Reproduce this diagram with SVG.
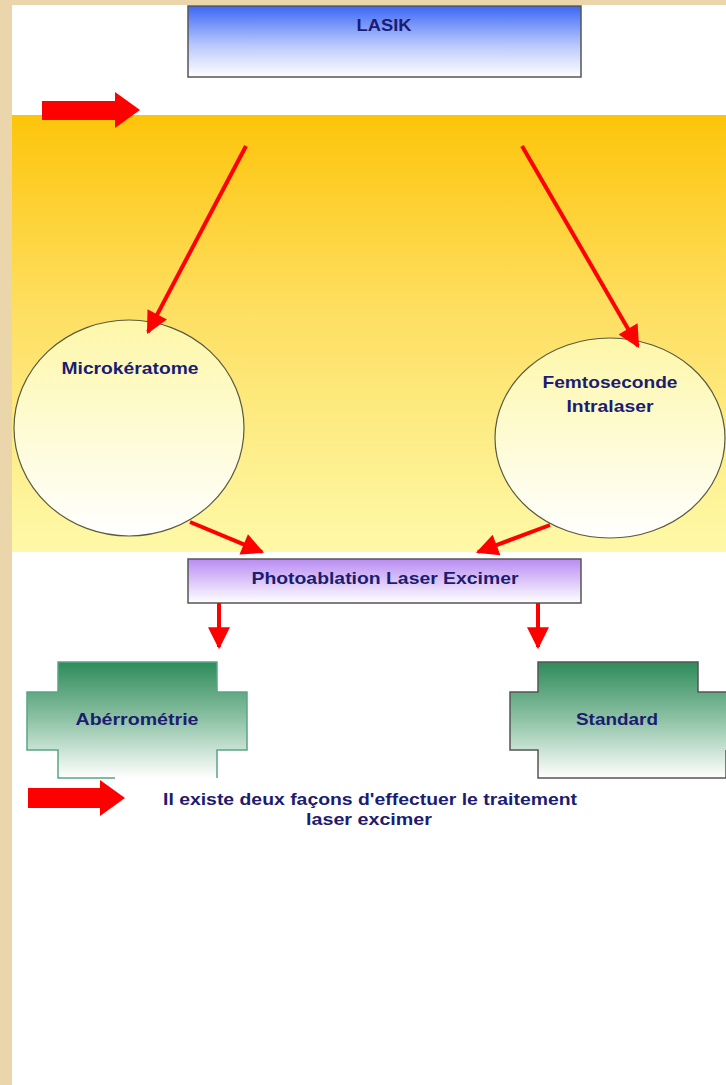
<svg xmlns="http://www.w3.org/2000/svg" width="726" height="1085" viewBox="0 0 726 1085">
<defs>
<linearGradient id="gBlue" x1="0" y1="0" x2="0" y2="1"><stop offset="0" stop-color="#3a68f5"/><stop offset="0.55" stop-color="#b9c8fb"/><stop offset="1" stop-color="#ffffff"/></linearGradient>
<linearGradient id="gPurple" x1="0" y1="0" x2="0" y2="1"><stop offset="0" stop-color="#b98cf2"/><stop offset="1" stop-color="#ffffff"/></linearGradient>
<linearGradient id="gBand" x1="0" y1="0" x2="0" y2="1"><stop offset="0" stop-color="#fdc50a"/><stop offset="0.45" stop-color="#fddf62"/><stop offset="1" stop-color="#fef9a8"/></linearGradient>
<linearGradient id="gCircle" x1="0" y1="0" x2="0" y2="1"><stop offset="0" stop-color="#fdf7a8"/><stop offset="1" stop-color="#ffffff"/></linearGradient>
<linearGradient id="gGreen" x1="0" y1="0" x2="0" y2="1"><stop offset="0" stop-color="#2e8b5a"/><stop offset="0.5" stop-color="#8fc3a6"/><stop offset="1" stop-color="#ffffff"/></linearGradient>
<marker id="ah" viewBox="0 0 10 10" refX="9" refY="5" markerWidth="24" markerHeight="22" markerUnits="userSpaceOnUse" orient="auto"><path d="M0,0 L10,5 L0,10 Z" fill="#ff0000"/></marker>
</defs>
<style>
.lbl{font-family:"Liberation Sans",Arial,sans-serif;font-weight:bold;font-size:16.5px;fill:#1c1c72;text-anchor:middle}
.conn{stroke:#ff0000;stroke-width:4;fill:none}
.box{stroke:#555555;stroke-width:1.5}
</style>
<rect x="0" y="0" width="726" height="1085" fill="#ead6aa"/>
<rect x="12" y="5" width="714" height="1080" fill="#ffffff"/>
<rect x="12" y="115" width="714" height="437" fill="url(#gBand)"/>

<g id="lasik">
<rect x="188" y="6" width="393" height="71" fill="url(#gBlue)" class="box"/>
<text x="384" y="31" class="lbl" textLength="55" lengthAdjust="spacingAndGlyphs">LASIK</text>
</g>

<g id="microkeratome">
<ellipse cx="129" cy="428" rx="115" ry="108" fill="url(#gCircle)" stroke="#5a5a40" stroke-width="1.2"/>
<text x="130" y="374" class="lbl" textLength="137" lengthAdjust="spacingAndGlyphs">Microkératome</text>
</g>

<g id="femtoseconde">
<ellipse cx="610" cy="438" rx="115" ry="100" fill="url(#gCircle)" stroke="#5a5a40" stroke-width="1.2"/>
<text x="610" y="388" class="lbl" textLength="135" lengthAdjust="spacingAndGlyphs">Femtoseconde</text>
<text x="610" y="412" class="lbl" textLength="87" lengthAdjust="spacingAndGlyphs">Intralaser</text>
</g>

<g id="photoablation">
<rect x="188" y="559" width="393" height="44" fill="url(#gPurple)" class="box"/>
<text x="385" y="584" class="lbl" textLength="267" lengthAdjust="spacingAndGlyphs">Photoablation Laser Excimer</text>
</g>

<g id="aberrometrie">
<path d="M58,778 L58,750 L27,750 L27,692 L58,692 L58,662 L217,662 L217,692 L247,692 L247,750 L217,750 L217,778" fill="url(#gGreen)" stroke="none"/>
<path d="M115,778 L58,778 L58,750 L27,750 L27,692 L58,692 L58,662 L217,662 L217,692 L247,692 L247,750 L217,750 L217,778" fill="none" stroke="#5aa585" stroke-width="1.5"/>
<text x="137" y="725" class="lbl" textLength="123" lengthAdjust="spacingAndGlyphs">Abérrométrie</text>
</g>

<g id="standard">
<path d="M538,778 L538,750 L510,750 L510,692 L538,692 L538,662 L698,662 L698,692 L726,692 L726,778 Z" fill="url(#gGreen)" stroke="none"/>
<path d="M600,778 L538,778 L538,750 L510,750 L510,692 L538,692 L538,662 L698,662 L698,692 L726,692" fill="none" stroke="#555555" stroke-width="1.5"/>
<path d="M726,750 L726,778 L600,778" fill="none" stroke="#555555" stroke-width="1.5"/>
<text x="617" y="725" class="lbl" textLength="82" lengthAdjust="spacingAndGlyphs">Standard</text>
</g>

<g id="note">
<text x="370" y="805" class="lbl" textLength="414" lengthAdjust="spacingAndGlyphs">Il existe deux façons d'effectuer le traitement</text>
<text x="369" y="825" class="lbl" textLength="126" lengthAdjust="spacingAndGlyphs">laser excimer</text>
</g>

<g id="connectors">
<path d="M42,101 L115,101 L115,92 L140,110 L115,128 L115,120 L42,120 Z" fill="#ff0000"/>
<path d="M28,788 L100,788 L100,780 L125,798 L100,816 L100,808 L28,808 Z" fill="#ff0000"/>
<line x1="246" y1="146" x2="148" y2="332" class="conn" marker-end="url(#ah)"/>
<line x1="522" y1="146" x2="638" y2="346" class="conn" marker-end="url(#ah)"/>
<line x1="190" y1="522" x2="262" y2="552" class="conn" marker-end="url(#ah)"/>
<line x1="550" y1="525" x2="478" y2="552" class="conn" marker-end="url(#ah)"/>
<line x1="219" y1="603" x2="219" y2="647" class="conn" marker-end="url(#ah)"/>
<line x1="538" y1="603" x2="538" y2="647" class="conn" marker-end="url(#ah)"/>
</g>
</svg>
